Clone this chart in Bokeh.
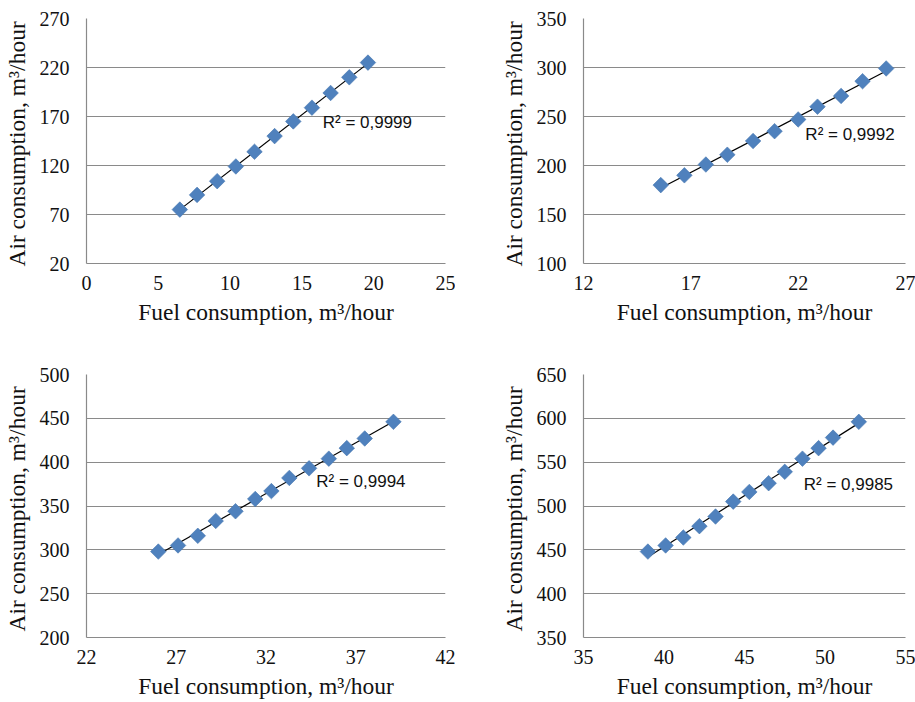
import numpy as np
from bokeh.plotting import figure
from bokeh.layouts import gridplot
from bokeh.models import Range1d, FixedTicker, Label
from bokeh.embed import file_html
from bokeh.resources import INLINE

# ---- data ----
fuel_1 = [6.5, 7.7, 9.1, 10.4, 11.7, 13.1, 14.4, 15.7, 17.0, 18.3, 19.6]
air_1 = [75, 90, 104, 119, 134, 150, 165, 179, 194, 210, 225]

fuel_2 = [15.6, 16.7, 17.7, 18.7, 19.9, 20.9, 22.0, 22.9, 24.0, 25.0, 26.1]
air_2 = [180, 190, 201, 211, 225, 235, 247, 260, 271, 286, 299]

fuel_3 = [26.0, 27.1, 28.2, 29.2, 30.3, 31.4, 32.3, 33.3, 34.4, 35.5, 36.5, 37.5, 39.1]
air_3 = [298, 305, 316, 333, 344, 358, 367, 382, 393, 404, 416, 427, 446]

fuel_4 = [39.0, 40.1, 41.2, 42.2, 43.2, 44.3, 45.3, 46.5, 47.5, 48.6, 49.6, 50.5, 52.1]
air_4 = [448, 455, 464, 477, 488, 505, 516, 526, 539, 554, 566, 578, 596]

xticks_1 = [0, 5, 10, 15, 20, 25]
yticks_1 = [20, 70, 120, 170, 220, 270]
xticks_2 = [12, 17, 22, 27]
yticks_2 = [100, 150, 200, 250, 300, 350]
xticks_3 = [22, 27, 32, 37, 42]
yticks_3 = [200, 250, 300, 350, 400, 450, 500]
xticks_4 = [35, 40, 45, 50, 55]
yticks_4 = [350, 400, 450, 500, 550, 600, 650]

r2_labels = ["R\u00b2 = 0,9999", "R\u00b2 = 0,9992", "R\u00b2 = 0,9994", "R\u00b2 = 0,9985"]

x_title = "Fuel consumption, m\u00b3/hour"
y_title = "Air  consumption, m\u00b3/hour"

GRID = "#8a8a8a"
BLUE = "#4F81BD"
SERIF = "Liberation Serif"


def panel(fx, ay, xt, yt, r2, r2pos, w, h, bl, br, bt, bb):
    p = figure(width=w, height=h, output_backend="svg", toolbar_location=None,
               x_range=Range1d(xt[0], xt[-1]), y_range=Range1d(yt[0], yt[-1]),
               min_border_left=bl, min_border_right=br,
               min_border_top=bt, min_border_bottom=bb)
    p.outline_line_color = None
    p.background_fill_color = "white"
    p.border_fill_color = "white"
    p.xgrid.grid_line_color = None
    p.ygrid.grid_line_color = GRID
    p.ygrid.grid_line_width = 1.2
    p.xaxis.ticker = FixedTicker(ticks=xt)
    p.yaxis.ticker = FixedTicker(ticks=yt)
    for ax in (p.xaxis[0], p.yaxis[0]):
        ax.axis_line_color = GRID
        ax.axis_line_width = 1.2
        ax.major_tick_line_color = None
        ax.minor_tick_line_color = None
        ax.major_tick_in = 0
        ax.major_tick_out = 0
        ax.major_label_text_font = SERIF
        ax.major_label_text_font_size = "20px"
        ax.major_label_text_color = "#111111"
        ax.axis_label_text_font = SERIF
        ax.axis_label_text_font_size = "23.5px"
        ax.axis_label_text_font_style = "normal"
        ax.axis_label_text_color = "#111111"
    p.xaxis.axis_label = x_title
    p.yaxis.axis_label = y_title
    p.xaxis.major_label_standoff = 12
    p.xaxis.axis_label_standoff = 6
    p.yaxis.major_label_standoff = 17
    p.yaxis.axis_label_standoff = 7

    xa = np.array(fx, dtype=float)
    ya = np.array(ay, dtype=float)
    k, b = np.polyfit(xa, ya, 1)
    xl = np.array([xa.min(), xa.max()])
    p.line(xl, k * xl + b, line_color="black", line_width=1.2)
    p.scatter(fx, ay, marker="square", angle=np.pi / 4, size=11,
              fill_color=BLUE, line_color="#4677B0", line_width=0.6)

    fx0, fy0 = r2pos
    lx = xt[0] + fx0 * (xt[-1] - xt[0])
    ly = yt[0] + fy0 * (yt[-1] - yt[0])
    p.add_layout(Label(x=lx, y=ly, text=r2, text_font="Liberation Sans",
                       text_font_size="17px", text_color="#111111",
                       text_baseline="middle", text_align="left"))
    return p


p1 = panel(fuel_1, air_1, xticks_1, yticks_1, r2_labels[0], (0.658, 0.574),
           455, 345, 86, 8, 18, 82)
p2 = panel(fuel_2, air_2, xticks_2, yticks_2, r2_labels[1], (0.689, 0.527),
           460, 345, 128, 10, 18, 81)
p3 = panel(fuel_3, air_3, xticks_3, yticks_3, r2_labels[2], (0.640, 0.593),
           455, 357, 86, 10, 29, 65)
p4 = panel(fuel_4, air_4, xticks_4, yticks_4, r2_labels[3], (0.684, 0.580),
           460, 357, 128, 10, 29, 65)

grid = gridplot([[p1, p2], [p3, p4]], toolbar_location=None)

open("out.html", "w").write(file_html(grid, INLINE))
